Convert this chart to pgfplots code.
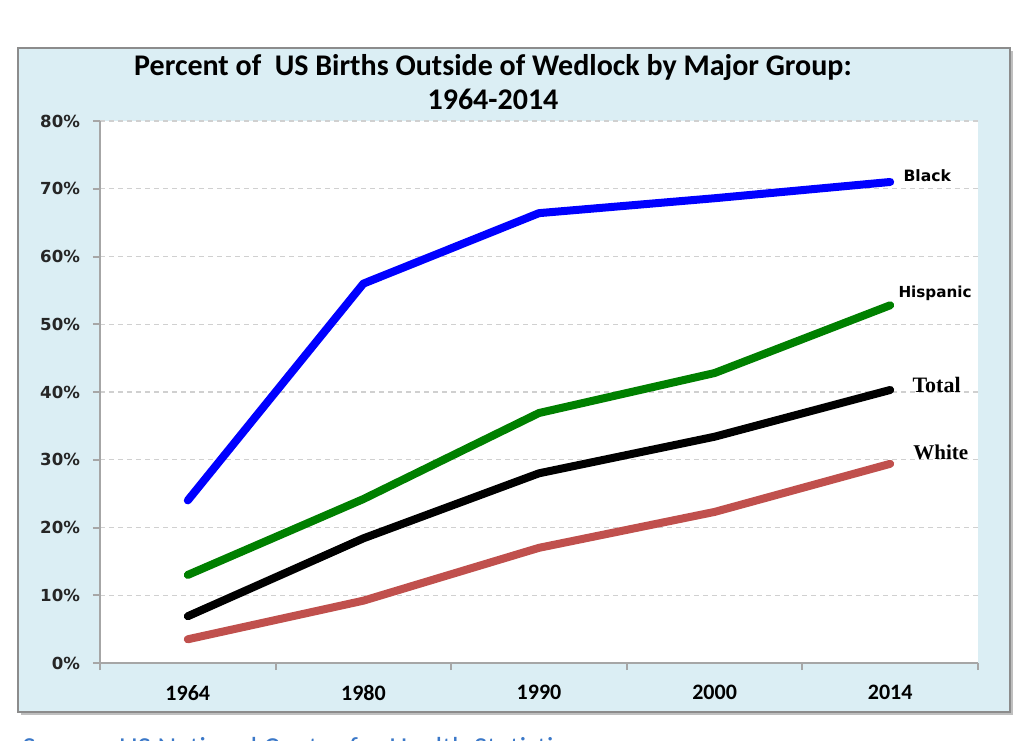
\documentclass[border=0pt]{standalone}
\usepackage{fontspec}
\setmainfont{Carlito}
\newfontfamily\dejavu{DejaVu Sans}
\newfontfamily\libserif{Liberation Serif}
\usepackage{pgfplots}
\pgfplotsset{compat=1.18}
\definecolor{panel}{HTML}{DBEEF4}
\definecolor{frame}{HTML}{8C8C8C}
\definecolor{axisgray}{HTML}{A6A6A6}
\definecolor{gridgray}{HTML}{D0D0D0}
\definecolor{blk}{HTML}{0000FF}
\definecolor{hisp}{HTML}{008000}
\definecolor{wht}{HTML}{C0504D}
\definecolor{srcblue}{HTML}{3B78C8}

\begin{document}
\begin{tikzpicture}[x=1pt,y=1pt]
\path[use as bounding box] (0,0) rectangle (514,370);
% outer panel
\fill[black!25] (10.5,12.5) rectangle (506.5,344.5);
\filldraw[fill=panel, draw=frame, line width=1pt] (9,14) rectangle (505,346);
% title
\node[anchor=base, inner sep=0, font=\bfseries\fontsize{15}{18}\selectfont] at (246.5,332)
  {Percent of\ \ US Births Outside of Wedlock by Major Group:};
\node[anchor=base, inner sep=0, font=\bfseries\fontsize{15}{18}\selectfont] at (246.5,315)
  {1964-2014};
% source line, cut by the page edge
\node[anchor=base west, inner sep=0, text=srcblue, font=\fontsize{14.5}{16}\selectfont] at (11,-8.8)
  {Source: US National Center for Health Statistics};

\begin{axis}[
    at={(50pt,38.5pt)}, anchor=south west,
    scale only axis,
    width=439pt, height=271pt,
    xmin=-0.5, xmax=4.5,
    ymin=0, ymax=80,
    axis x line*=bottom, axis y line*=left,
    axis line style={axisgray, line width=1pt},
    axis background/.style={fill=white},
    tick align=outside,
    major tick length=3.5pt,
    tick style={axisgray, line width=1pt},
    xtick={-0.5,0.5,1.5,2.5,3.5,4.5},
    xticklabels={},
    extra x ticks={0,1,2,3,4},
    extra x tick labels={1964,1980,1990,2000,2014},
    extra x tick style={major tick length=0pt,
        xticklabel style={font=\bfseries\fontsize{11}{13}\selectfont, yshift=-7.5pt}},
    ytick={0,10,...,80},
    yticklabels={0\%,10\%,20\%,30\%,40\%,50\%,60\%,70\%,80\%},
    yticklabel style={font=\dejavu\bfseries\fontsize{8.3}{10}\selectfont, text=black!85, xshift=-3pt},
    ymajorgrids,
    major grid style={gridgray, line width=0.6pt, dash pattern=on 2.5pt off 2pt},
    clip=false,
    no markers,
    every axis plot/.append style={line width=4pt, line cap=round, line join=round},
]
\addplot[blk] coordinates {(0,24.0) (1,56.0) (2,66.4) (3,68.6) (4,71.0)};
\addplot[hisp] coordinates {(0,13.0) (1,24.2) (2,36.9) (3,42.8) (4,52.8)};
\addplot[black] coordinates {(0,6.9) (1,18.4) (2,28.0) (3,33.4) (4,40.3)};
\addplot[wht] coordinates {(0,3.5) (1,9.2) (2,17.0) (3,22.3) (4,29.4)};

\node[anchor=west, inner sep=0, font=\dejavu\bfseries\fontsize{7.8}{9}\selectfont] at (axis cs:4.074,72.0) {Black};
\node[anchor=west, inner sep=0, font=\dejavu\bfseries\fontsize{7.6}{9}\selectfont] at (axis cs:4.045,54.5) {Hispanic};
\node[anchor=west, inner sep=0, font=\libserif\bfseries\fontsize{11}{13}\selectfont] at (axis cs:4.125,41.0) {Total};
\node[anchor=west, inner sep=0, font=\libserif\bfseries\fontsize{10.5}{12}\selectfont] at (axis cs:4.13,31.1) {White};
\end{axis}
\end{tikzpicture}
\end{document}
